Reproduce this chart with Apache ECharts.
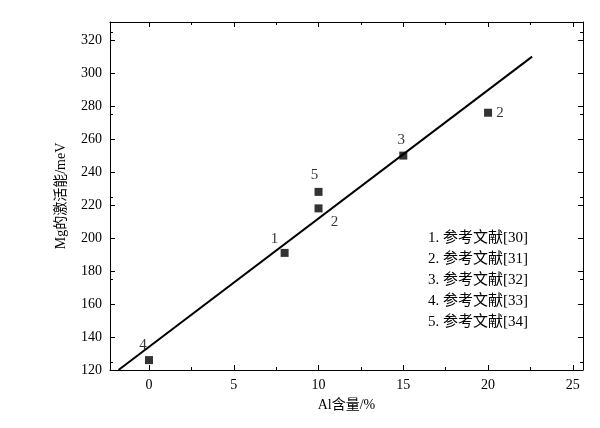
<!DOCTYPE html>
<html>
<head>
<meta charset="utf-8">
<script src="https://cdn.jsdelivr.net/npm/echarts@6/dist/echarts.min.js"></script>
<style>html,body{margin:0;background:#fff}#c{width:600px;height:428px}</style>
</head>
<body>
<div id="c"></div>
<script>
// measured points: [Al %, activation energy meV, ref label]
const points = [[0, 126, '4'], [8, 191, '1'], [10, 218, '2'], [10, 228, '5'], [15, 250, '3'], [20, 276, '2']];
const fitLine = [[-1.8, 120], [22.6, 310]];
const xTicks = [0, 5, 10, 15, 20, 25];
const yTicks = [120, 140, 160, 180, 200, 220, 240, 260, 280, 300, 320];
const legendItems = ['1. 参考文献[30]', '2. 参考文献[31]', '3. 参考文献[32]', '4. 参考文献[33]', '5. 参考文献[34]'];

const labelPos = { '4': [-6, -15], '1': [-10, -14], '2a': [16, 14], '5': [-4, -17], '3': [-2, -16], '2b': [12, 0] };

const font = '"Liberation Serif", "Noto Sans CJK SC", serif';
const chart = echarts.init(document.getElementById('c'));

function axisCommon(ticks, showLabel) {
    return {
        axisLine: { show: true, onZero: false, lineStyle: { color: '#000', width: 1 } },
        axisTick: { show: true, inside: true, length: 5, customValues: ticks, lineStyle: { color: '#000' } },
        minorTick: { show: true, splitNumber: 2, length: 3, lineStyle: { color: '#000' } },
        axisLabel: { show: showLabel, customValues: ticks, color: '#000', fontFamily: font, fontSize: 14 },
        splitLine: { show: false }
    };
}

chart.setOption({
    animation: false,
    grid: { left: 110, right: 17, top: 22, bottom: 58 },
    xAxis: [
        Object.assign({ type: 'value', min: -2.3, max: 25.6, name: 'Al含量/%', nameLocation: 'middle', nameGap: 28,
            nameTextStyle: { fontFamily: font, fontSize: 14, color: '#000' } }, axisCommon(xTicks, true)),
        Object.assign({ type: 'value', min: -2.3, max: 25.6, position: 'top' }, axisCommon(xTicks, false))
    ],
    yAxis: [
        Object.assign({ type: 'value', min: 120, max: 331, name: 'Mg的激活能/meV', nameLocation: 'middle', nameGap: 42,
            nameTextStyle: { fontFamily: font, fontSize: 14, color: '#000' } }, axisCommon(yTicks, true)),
        Object.assign({ type: 'value', min: 120, max: 331, position: 'right' }, axisCommon(yTicks, false))
    ],
    series: [
        {
            type: 'line', data: fitLine, symbol: 'none', silent: true,
            lineStyle: { color: '#000', width: 2 }
        },
        {
            type: 'scatter', symbol: 'rect', symbolSize: 8,
            itemStyle: { color: '#000' },
            data: points.map((p, i) => {
                const key = p[2] === '2' ? (i === 2 ? '2a' : '2b') : p[2];
                return {
                    value: [p[0], p[1]],
                    label: { show: true, formatter: p[2], position: 'inside', offset: labelPos[key],
                        color: '#000', fontFamily: font, fontSize: 15 }
                };
            })
        }
    ],
    graphic: legendItems.map((t, i) => ({
        type: 'text', left: 428, top: 231 + i * 21,
        style: { text: t, fill: '#000', font: '15px ' + font }
    }))
});
</script>
</body>
</html>
